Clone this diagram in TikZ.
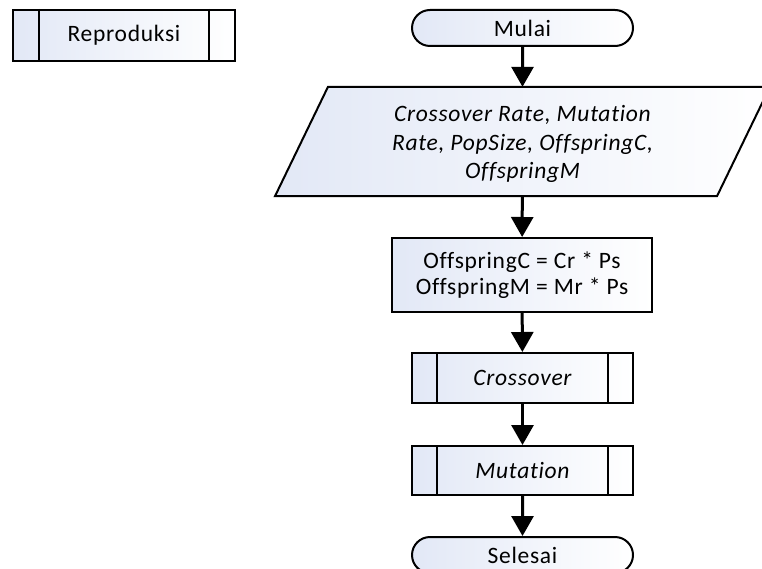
\documentclass[tikz,border=0pt]{standalone}
\usepackage{fontspec}
\setmainfont{Carlito}[Ligatures={NoCommon,NoRare}, LetterSpace=3]
\usetikzlibrary{arrows.meta,shapes.misc,calc}
\definecolor{boxblue}{HTML}{E2E8F6}
\tikzset{
  shapebox/.style={draw=black, line width=2pt, left color=boxblue, right color=white,
    inner sep=0pt, font=\fontsize{23.5}{26}\selectfont, align=center},
  termbox/.style={shapebox, rounded rectangle, minimum width=221pt, minimum height=36pt},
  procbox/.style={shapebox, rectangle, minimum width=260pt, minimum height=74pt},
  subbox/.style={shapebox, rectangle, minimum width=221pt, minimum height=50pt},
  sideline/.style={line width=2pt},
  flow/.style={line width=3pt, -{Triangle[width=22pt,length=20pt]}},
  inputtext/.style={inner sep=0pt, font=\fontsize{23.5}{28.5}\selectfont\itshape, align=center}
}
\newcommand{\subrule}[2]{%
  \draw[sideline] ($(#1.north west)+(#2,0)$) -- ($(#1.south west)+(#2,0)$);
  \draw[sideline] ($(#1.north east)-(#2,0)$) -- ($(#1.south east)-(#2,0)$);}
\begin{document}
\begin{tikzpicture}[x=1pt,y=-1pt]
  \useasboundingbox (0,0) rectangle (762,569);

  % module title
  \node[subbox, minimum width=222pt, minimum height=51pt] (rep) at (124,35.5) {Reproduksi};
  \subrule{rep}{27}

  % start
  \node[termbox] (start) at (522.5,28) {Mulai};

  % input parallelogram: an empty frame node, the outline, then the text on top
  \node[inner sep=0pt, minimum width=389pt, minimum height=109pt] (input) at (522.5,141.5) {};
  \filldraw[line width=2pt, left color=boxblue, right color=white]
    ($(input.north)+(-194.5,0)$) -- ($(input.north)+(247.5,0)$) --
    ($(input.south)+(194.5,0)$) -- ($(input.south)+(-247.5,0)$) -- cycle;
  \node[inputtext] (inputlabel) at ($(input)+(0,2.5)$)
    {Crossover Rate, Mutation\\Rate, PopSize, OffspringC,\\OffspringM};

  % computation
  \node[procbox] (calc) at (522,275) {OffspringC = Cr * Ps\\OffspringM = Mr * Ps};

  % sub-processes
  \node[subbox] (cross) at (522.5,378) {\itshape Crossover};
  \subrule{cross}{26}
  \node[subbox, minimum height=49pt] (mut) at (522.5,470.5) {\itshape Mutation};
  \subrule{mut}{26}

  % end
  \node[termbox] (stop) at (522.5,555) {Selesai};

  % flow
  \draw[flow] (start) -- (input);
  \draw[flow] (input) -- (calc);
  \draw[flow] (calc) -- (cross);
  \draw[flow] (cross) -- (mut);
  \draw[flow] (mut) -- (stop);
\end{tikzpicture}
\end{document}
